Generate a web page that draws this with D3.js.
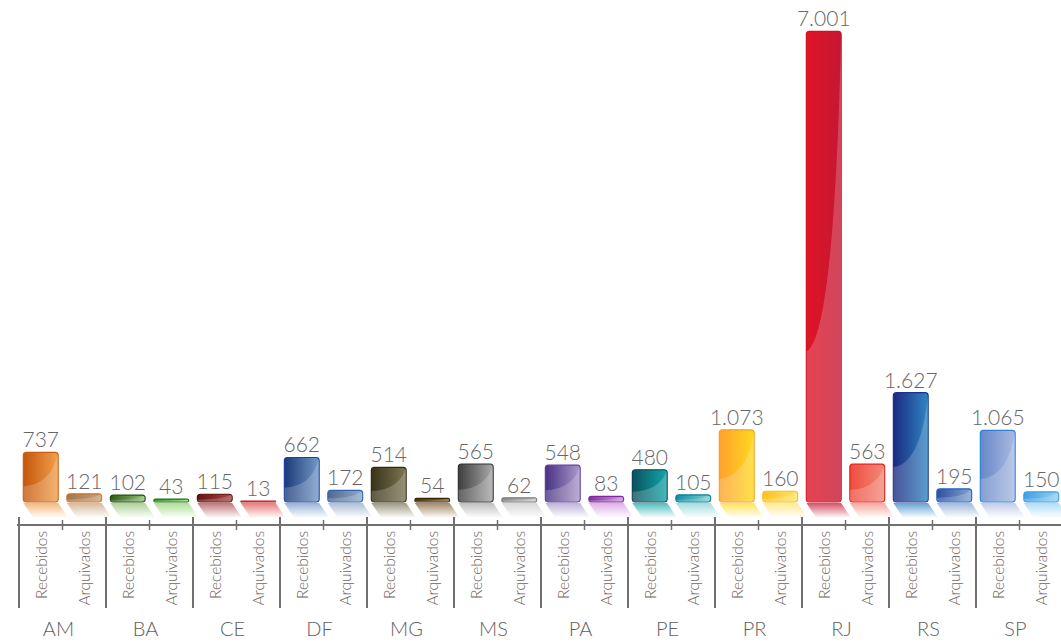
<!DOCTYPE html>
<html lang="pt-BR">
<head>
<meta charset="utf-8">
<script src="https://cdn.jsdelivr.net/npm/d3@7"></script>
<style>
  html, body { margin: 0; padding: 0; background: #ffffff; }
  svg { display: block; font-family: "Lato", "Open Sans", sans-serif; }
</style>
</head>
<body>
<svg id="chart" width="1061" height="643"></svg>
<script>
// Processos por estado
const estados    = ["AM", "BA", "CE", "DF", "MG", "MS", "PA", "PE", "PR", "RJ", "RS", "SP"];
const series     = ["Recebidos", "Arquivados"];
const recebidos  = [737, 102, 115, 662, 514, 565, 548, 480, 1073, 7001, 1627, 1065];
const arquivados = [121, 43, 13, 172, 54, 62, 83, 105, 160, 563, 195, 150];

// Paleta por estado: [escuro, claro, borda] para cada série
const coresRecebidos = [
  ["#c4560a", "#f2a04e", "#c95c10"],
  ["#2b5a12", "#94c274", "#1d4a10"],
  ["#641010", "#ad4848", "#5a0c0c"],
  ["#1b3a78", "#7399c9", "#203f9c"],
  ["#38321a", "#7c7652", "#2e2a14"],
  ["#3e3e3e", "#aaaaaa", "#333333"],
  ["#4a3182", "#aa9acb", "#5c3e9c"],
  ["#0b4f5e", "#12a8aa", "#0a4454"],
  ["#ffa12e", "#ffd91e", "#f3a21e"],
  ["#df1526", "#c51733", "#d01020"],
  ["#1b2a80", "#2f86c2", "#1e3090"],
  ["#6787c7", "#aabbe2", "#2f80d2"]
];
const coresArquivados = [
  ["#9c7650", "#c9a27a", "#e06e1c"],
  ["#3f9f2e", "#92d472", "#1f6e1e"],
  ["#c41c1c", "#e05050", "#c01818"],
  ["#506891", "#93a9c9", "#2f62b2"],
  ["#4a2f0e", "#836232", "#3a2408"],
  ["#8e8e8e", "#cacaca", "#7a7a7a"],
  ["#7f2fa0", "#d493e2", "#7a2a9a"],
  ["#0f8ea6", "#82d2d2", "#0b7a92"],
  ["#ffc11e", "#ffe36a", "#f6be1a"],
  ["#ef4c3c", "#f28b7b", "#e21e1e"],
  ["#2f4f9f", "#82a2d2", "#1e62c2"],
  ["#3ea0e2", "#94d2f2", "#3a9ee0"]
];

const svg = d3.select("#chart");
const W = 1061;
const baseY = 502;

const fmt = d3.formatLocale({ decimal: ",", thousands: ".", grouping: [3], currency: ["R$", ""] }).format(",d");

const x0 = d3.scaleBand().domain(estados).range([19, 19 + 12 * 87]).paddingInner(0).paddingOuter(0);
const x1 = d3.scaleBand().domain(series).range([0, x0.bandwidth()]).paddingInner(0.2).paddingOuter(0.1);
const y  = d3.scaleLinear().domain([0, 7200]).range([baseY, 18]);

const rows = estados.flatMap((e, i) => [
  { estado: e, serie: series[0], valor: recebidos[i],  cores: coresRecebidos[i],  id: `r${i}` },
  { estado: e, serie: series[1], valor: arquivados[i], cores: coresArquivados[i], id: `a${i}` }
]);

const defs = svg.append("defs");

rows.forEach(d => {
  const g = defs.append("linearGradient").attr("id", `fill-${d.id}`)
    .attr("x1", "0").attr("x2", "1").attr("y1", "0").attr("y2", "0");
  g.append("stop").attr("offset", "0").attr("stop-color", d.cores[0]);
  g.append("stop").attr("offset", "1").attr("stop-color", d.cores[1]);

  const r = defs.append("linearGradient").attr("id", `refl-${d.id}`)
    .attr("x1", "0").attr("x2", "0").attr("y1", "0").attr("y2", "1");
  r.append("stop").attr("offset", "0").attr("stop-color", d.cores[1]).attr("stop-opacity", 0.75);
  r.append("stop").attr("offset", "1").attr("stop-color", d.cores[1]).attr("stop-opacity", 0);

  const bx = x0(d.estado) + x1(d.serie);
  const bw = x1.bandwidth();
  const top = y(d.valor);
  const h = Math.max(baseY - top, 1);
  defs.append("clipPath").attr("id", `clip-${d.id}`)
    .append("rect").attr("x", bx).attr("y", baseY - h).attr("width", bw).attr("height", h)
    .attr("rx", Math.min(3, h / 2));
});

const bars = svg.append("g").selectAll("g.bar").data(rows).join("g").attr("class", "bar");

// reflexo inclinado abaixo de cada barra
bars.append("path")
  .attr("d", d => {
    const bx = x0(d.estado) + x1(d.serie), bw = x1.bandwidth();
    const t = baseY + 1, b = baseY + 16, s = 10;
    return `M${bx},${t}L${bx + bw},${t}L${bx + bw + s},${b}L${bx + s},${b}Z`;
  })
  .attr("fill", d => `url(#refl-${d.id})`);

// corpo da barra
bars.append("rect")
  .attr("x", d => x0(d.estado) + x1(d.serie))
  .attr("y", d => baseY - Math.max(baseY - y(d.valor), 1))
  .attr("width", x1.bandwidth())
  .attr("height", d => Math.max(baseY - y(d.valor), 1))
  .attr("rx", d => Math.min(3, Math.max(baseY - y(d.valor), 1) / 2))
  .attr("fill", d => `url(#fill-${d.id})`)
  .attr("stroke", d => d.cores[2])
  .attr("stroke-width", 1.2);

// brilho curvo na parte inferior direita
bars.append("path")
  .attr("clip-path", d => `url(#clip-${d.id})`)
  .attr("d", d => {
    const bx = x0(d.estado) + x1(d.serie), bw = x1.bandwidth();
    const h = Math.max(baseY - y(d.valor), 1);
    const px = f => bx + f * bw, py = f => baseY - f * h;
    return `M${px(0)},${py(0.32)}Q${px(0.8)},${py(0.35)} ${px(1)},${py(1)}L${px(1)},${baseY}L${px(0)},${baseY}Z`;
  })
  .attr("fill", "#ffffff")
  .attr("fill-opacity", 0.2);

// rótulos de valor
bars.append("text")
  .attr("x", d => x0(d.estado) + x1(d.serie) + x1.bandwidth() / 2)
  .attr("y", d => y(d.valor) - 5)
  .attr("text-anchor", "middle")
  .attr("font-size", 21)
  .attr("font-weight", 300)
  .attr("fill", "#666666")
  .text(d => fmt(d.valor));

// eixo
const axis = svg.append("g").attr("stroke", "#707070").attr("stroke-width", 2);
axis.append("line").attr("x1", x0(estados[0]) - 2).attr("x2", W).attr("y1", 525).attr("y2", 525);
axis.selectAll("line.div").data(estados).join("line").attr("class", "div")
  .attr("x1", d => x0(d)).attr("x2", d => x0(d)).attr("y1", 517).attr("y2", 608);
axis.selectAll("line.tick").data(estados).join("line").attr("class", "tick")
  .attr("stroke-width", 1.5)
  .attr("x1", d => x0(d) + x0.bandwidth() / 2).attr("x2", d => x0(d) + x0.bandwidth() / 2)
  .attr("y1", 520).attr("y2", 530);

// rótulos das séries (verticais)
svg.append("g").selectAll("text").data(rows).join("text")
  .attr("transform", d => `translate(${x0(d.estado) + x1(d.serie) + x1.bandwidth() / 2},531) rotate(-90)`)
  .attr("text-anchor", "end")
  .attr("dominant-baseline", "central")
  .attr("font-size", 15.5)
  .attr("font-weight", 300)
  .attr("fill", "#6e645c")
  .text(d => d.serie);

// rótulos dos estados
svg.append("g").selectAll("text").data(estados).join("text")
  .attr("x", d => x0(d) + x0.bandwidth() / 2 - 4)
  .attr("y", 636)
  .attr("text-anchor", "middle")
  .attr("font-size", 20)
  .attr("font-weight", 300)
  .attr("fill", "#5e5e5e")
  .text(d => d);
</script>
</body>
</html>
